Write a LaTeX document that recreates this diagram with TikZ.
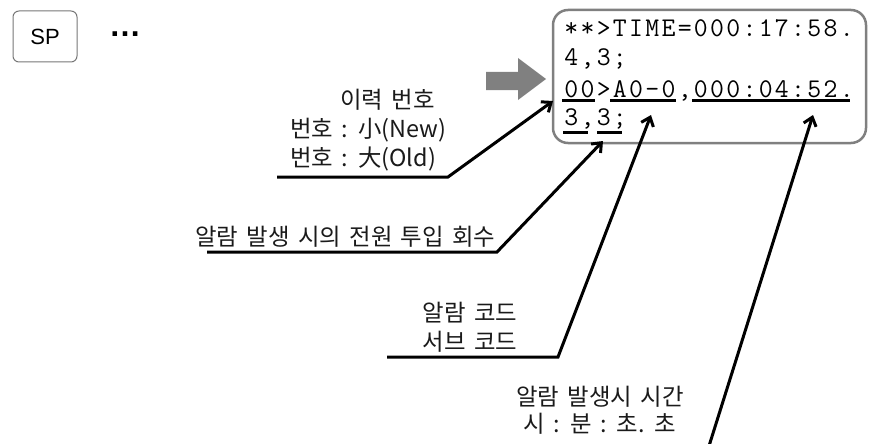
\documentclass[tikz,border=0pt]{standalone}
\usepackage{fontspec}
\usetikzlibrary{arrows.meta}
\newfontfamily\krfont[WordSpace=1.6]{Noto Sans CJK KR}
\newfontfamily\spfont{Liberation Sans}
\definecolor{boxgray}{HTML}{808080}
\definecolor{spgray}{HTML}{777777}
\definecolor{labeltext}{HTML}{1A1A1A}
\newlength\cellw
\setlength\cellw{16.2pt}
\def\spreadtext#1{\spreadloop#1\relax}
\def\spreadloop#1{\ifx\relax#1\else\makebox[\cellw]{#1}\expandafter\spreadloop\fi}
\begin{document}
\begin{tikzpicture}[x=1pt,y=-1pt,
  kr/.style={font=\krfont\fontsize{23.4}{27}\selectfont, inner sep=0pt, text=labeltext},
  codeline/.style={font=\ttfamily\fontsize{27}{30}\selectfont, inner sep=0pt, anchor=base west},
  callout/.style={line width=3pt, -{Straight Barb[length=8pt,width=13pt]}, line join=miter},
  uline/.style={line width=3pt}]
\useasboundingbox (0,0) rectangle (870,444);

% SP key and dots
\node[draw=spgray, line width=1pt, rounded corners=6pt, minimum width=64pt, minimum height=51pt,
      font=\spfont\fontsize{22}{24}\selectfont] (sp) at (45,36.5) {SP};
\node[font=\spfont\bfseries\fontsize{32}{32}\selectfont, inner sep=0pt, anchor=base] (dots) at (125,37) {…};

% screen box
\draw[boxgray, line width=2.5pt, rounded corners=15pt] (553,10) rectangle (866,143);
\node[codeline] (l1) at (563,37) {\spreadtext{**>TIME=000:17:58.}};
\node[codeline] (l2) at (563,66) {\spreadtext{4,3;}};
\node[codeline] (l3) at (563,97) {\spreadtext{00>A0-0,000:04:52.}};
\node[codeline] (l4) at (563,125) {\spreadtext{3,3;}};

% underlines
\draw[uline] (562,100) -- (595,100);
\draw[uline] (610,100) -- (676,100);
\draw[uline] (692,100) -- (850,100);
\draw[uline] (563,132) -- (588,132);
\draw[uline] (597,132) -- (622,132);

% gray arrow
\fill[boxgray] (486,72) -- (518,72) -- (518,58) -- (546,79) -- (518,100) -- (518,90) -- (486,90) -- cycle;

% labels
\node[kr, anchor=west] (hist1) at (340,100) {이력 번호};
\node[kr, anchor=west] (hist2) at (290,130) {번호 : 小(New)};
\node[kr, anchor=west] (hist3) at (290,159) {번호 : 大(Old)};
\node[kr, anchor=west] (power) at (195,237) {알람 발생 시의 전원 투입 회수};
\node[kr] (code1) at (470,313) {알람 코드};
\node[kr] (code2) at (470,342) {서브 코드};
\node[kr] (time1) at (600,397) {알람 발생시 시간};
\node[kr] (time2) at (600,424) {시 : 분 : 초. 초};

% connector points
\coordinate (s1) at (277,177); \coordinate (c1) at (448,177); \coordinate (t1) at (553,101);
\coordinate (s2) at (207,252); \coordinate (c2) at (497,252); \coordinate (t2) at (603,141);
\coordinate (s3) at (387,357); \coordinate (c3) at (558,357); \coordinate (t3) at (651,115);
\coordinate (s4) at (709,446); \coordinate (t4) at (813,115);

\draw[callout] (s1) -- (c1) -- (t1);
\draw[callout] (s2) -- (c2) -- (t2);
\draw[callout] (s3) -- (c3) -- (t3);
\draw[callout] (s4) -- (t4);
\end{tikzpicture}
\end{document}
